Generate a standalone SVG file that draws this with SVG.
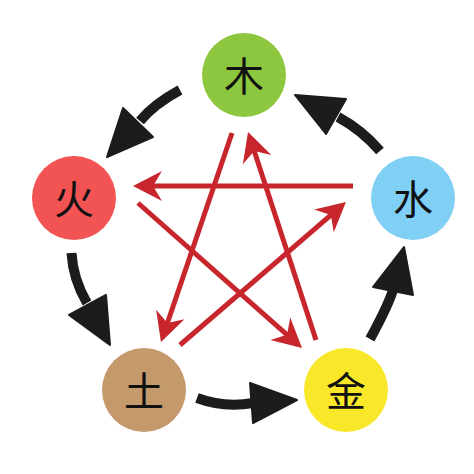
<svg xmlns="http://www.w3.org/2000/svg" width="474" height="474" viewBox="0 0 474 474">
<style>
.node text{font-family:"Noto Sans CJK SC","Noto Sans CJK JP",sans-serif;font-size:40px;fill:#111;text-anchor:middle;dominant-baseline:central}
.red{stroke:#c8262d;stroke-width:5;fill:none;stroke-linecap:butt}
.shaft{stroke:#1c1c1c;stroke-width:10;fill:none;stroke-linecap:butt}
.head{fill:#1c1c1c;stroke:#1c1c1c;stroke-width:2;stroke-linejoin:round}
</style>
<defs>
<marker id="rh" markerUnits="userSpaceOnUse" markerWidth="32" markerHeight="32" refX="15" refY="15" orient="auto" overflow="visible">
<path d="M30,15 L1,0 L10,15 L1,30 Z" fill="#c8262d"/>
</marker>
</defs>
<rect width="474" height="474" fill="#fff"/>
<g id="connectors">
<g id="star">
<line class="red" x1="353" y1="186" x2="148" y2="186" marker-end="url(#rh)"/>
<line class="red" x1="232" y1="133" x2="165.8" y2="327.8" marker-end="url(#rh)"/>
<line class="red" x1="316" y1="340" x2="252.7" y2="146.3" marker-end="url(#rh)"/>
<line class="red" x1="138" y1="203" x2="290.8" y2="338.1" marker-end="url(#rh)"/>
<line class="red" x1="180" y1="345" x2="334.6" y2="211.8" marker-end="url(#rh)"/>
</g>
<g id="cycle">
<path class="shaft" d="M180,90 Q154,104 140,121"/>
<polygon class="head" points="107,157 123,108 153,137"/>
<path class="shaft" d="M380,151 Q362,130 338,117"/>
<polygon class="head" points="295,95 346,99 326,134"/>
<path class="shaft" d="M71.5,253 Q73,279 87,303"/>
<polygon class="head" points="110,345 69,315 106,295"/>
<path class="shaft" d="M197,398 Q224,408 253,403"/>
<polygon class="head" points="297,400 250,383 253,423"/>
<path class="shaft" d="M370,339 Q388,306 393,290"/>
<polygon class="head" points="404,247 373,287 413,295"/>
</g>
</g>
<g id="wood" class="node"><circle cx="244" cy="75" r="42" fill="#8dc63f"/><text x="244" y="74">木</text></g>
<g id="fire" class="node"><circle cx="74" cy="198" r="42" fill="#f25353"/><text x="74" y="197">火</text></g>
<g id="water" class="node"><circle cx="413" cy="198" r="42" fill="#80cff5"/><text x="413" y="197">水</text></g>
<g id="earth" class="node"><circle cx="144" cy="390" r="42" fill="#c49a6c"/><text x="144" y="389">土</text></g>
<g id="metal" class="node"><circle cx="346" cy="390" r="42" fill="#f9e82a"/><text x="346" y="389">金</text></g>
</svg>
